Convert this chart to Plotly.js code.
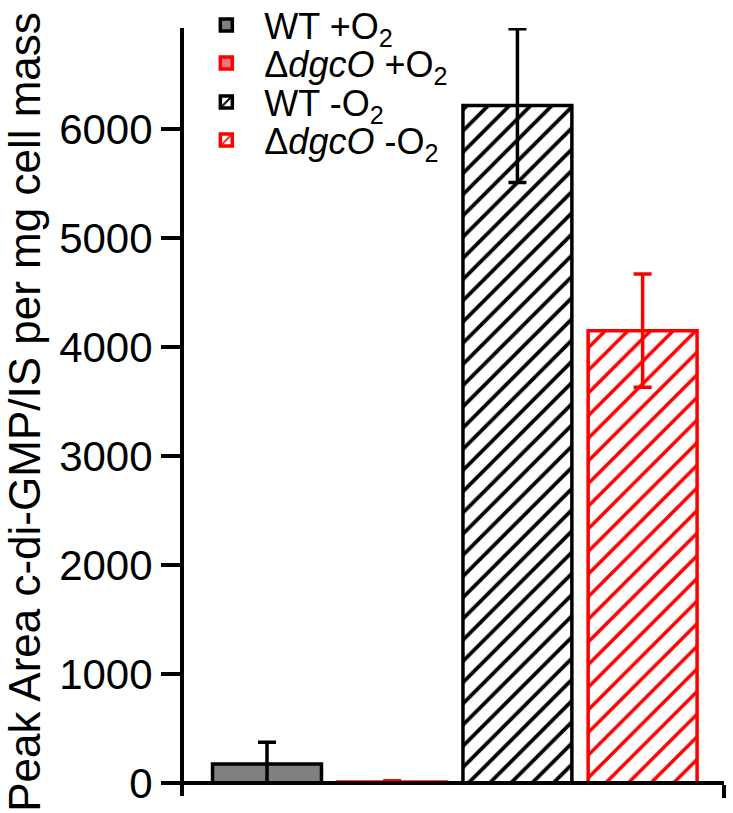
<!DOCTYPE html>
<html>
<head>
<meta charset="utf-8">
<script src="https://cdn.plot.ly/plotly-3.0.1.min.js"></script>
<style>body{margin:0;background:#fff}#chart{width:733px;height:813px}</style>
</head>
<body>
<div id="chart"></div>
<script>
const categories = ["WT +O2", "dgcO +O2", "WT -O2", "dgcO -O2"];
const seriesNames = ["WT +O<sub>2</sub>", "Δ<i>dgcO</i> +O<sub>2</sub>", "WT -O<sub>2</sub>", "Δ<i>dgcO</i> -O<sub>2</sub>"];
const values = [175, 10, 6215, 4150];
const errors = [200, 10, 705, 520];
const yTicks = [0, 1000, 2000, 3000, 4000, 5000, 6000];

const FONT = "Liberation Sans, Arial, sans-serif";
const styles = [
  {color: "#808080", line: "#000000", err: "#000000"},
  {color: "rgb(240,120,120)", line: "#ff0000", err: "#ff0000"},
  {color: "#ffffff", line: "#000000", err: "#000000", pattern: {shape: "/", fgcolor: "#000000", bgcolor: "#ffffff", size: 15, solidity: 0.25}},
  {color: "#ffffff", line: "#ff0000", err: "#ff0000", pattern: {shape: "/", fgcolor: "#ff0000", bgcolor: "#ffffff", size: 16, solidity: 0.22}}
];
const legendIds = ["legend", "legend2", "legend3", "legend4"];

const traces = categories.map((c, i) => {
  const m = {color: styles[i].color, line: {color: styles[i].line, width: 3.5}};
  if (styles[i].pattern) m.pattern = styles[i].pattern;
  return {
    type: "bar",
    x: [c],
    y: [values[i]],
    name: seriesNames[i],
    legend: legendIds[i],
    width: 0.87,
    marker: m,
    error_y: {type: "data", symmetric: false, array: [errors[i]], arrayminus: [Math.min(errors[i], values[i])],
      color: styles[i].err, thickness: 3.5, width: 9},
    hoverinfo: "skip"
  };
});

const yr = [-119, 6927];
const plotH = 813 - 28 - 17;
const rowY = [25, 63, 102, 140];
const legends = {};
legendIds.forEach((id, i) => {
  legends[id] = {
    x: 0.008, xanchor: "left",
    y: 1 - (rowY[i] - 28) / plotH, yanchor: "middle",
    font: {family: FONT, size: 36, color: "#000"},
    itemwidth: 66,
    bgcolor: "rgba(0,0,0,0)",
    borderwidth: 0
  };
});

const layout = Object.assign({
  width: 733, height: 813,
  margin: {l: 184, r: 9, t: 28, b: 17, autoexpand: false},
  paper_bgcolor: "#fff", plot_bgcolor: "#fff",
  barmode: "overlay",
  showlegend: true,
  font: {family: FONT, color: "#000"},
  xaxis: {
    type: "category", range: [-0.663, 3.65],
    anchor: "free", position: -yr[0] / (yr[1] - yr[0]),
    showline: true, linecolor: "#000", linewidth: 4,
    showticklabels: false, ticks: "outside", tickmode: "array", tickvals: [3.65], ticklen: 13, tickwidth: 4, tickcolor: "#000",
    showgrid: false, zeroline: false, fixedrange: true
  },
  yaxis: {
    range: yr,
    showline: true, linecolor: "#000", linewidth: 4,
    ticks: "outside", ticklen: 19, tickwidth: 4, tickcolor: "#000",
    tickmode: "array", tickvals: yTicks, ticktext: yTicks.map(String),
    tickfont: {family: FONT, size: 42, color: "#000"},
    showgrid: false, zeroline: false,
    title: {text: "Peak Area c-di-GMP/IS per mg cell mass", font: {family: FONT, size: 44, color: "#000"}, standoff: 8},
    automargin: false
  }
}, legends);

Plotly.newPlot("chart", traces, layout, {staticPlot: true});
</script>
</body>
</html>
